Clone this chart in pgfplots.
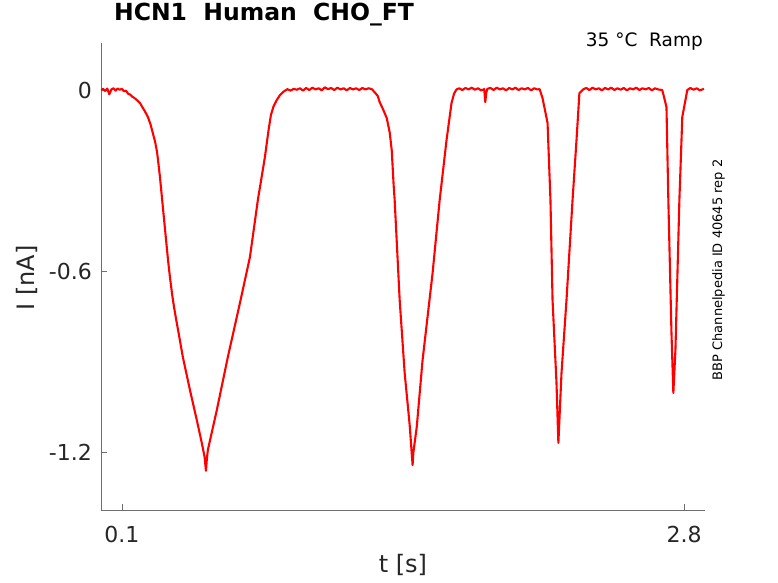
\documentclass[border=0pt]{standalone}
\usepackage{fontspec}
\setmainfont{DejaVu Sans}
\usepackage{pgfplots}
\usepackage{pgfplotstable}
\pgfplotsset{compat=1.18}
\definecolor{txt}{HTML}{262626}
\definecolor{axc}{HTML}{6E6E6E}

\pgfplotstableread{
t I
0.000 0.000
0.010 0.004
0.020 -0.003
0.030 0.005
0.040 -0.014
0.050 0.002
0.060 0.006
0.070 -0.002
0.080 0.005
0.090 0.001
0.100 0.004
0.110 -0.004
0.120 -0.002
0.130 -0.012
0.140 -0.015
0.150 -0.022
0.160 -0.026
0.170 -0.032
0.180 -0.038
0.187 -0.043
0.200 -0.058
0.212 -0.072
0.225 -0.089
0.237 -0.112
0.249 -0.143
0.260 -0.172
0.269 -0.205
0.276 -0.245
0.283 -0.288
0.297 -0.388
0.310 -0.480
0.322 -0.565
0.331 -0.620
0.342 -0.680
0.352 -0.725
0.362 -0.765
0.372 -0.803
0.393 -0.885
0.427 -0.994
0.460 -1.094
0.484 -1.170
0.497 -1.215
0.504 -1.262
0.508 -1.225
0.513 -1.193
0.556 -1.061
0.609 -0.885
0.667 -0.706
0.715 -0.554
0.753 -0.365
0.787 -0.222
0.805 -0.130
0.816 -0.082
0.828 -0.055
0.844 -0.033
0.860 -0.016
0.875 -0.006
0.895 0.003
0.910 -0.002
0.925 0.004
0.940 0.001
0.955 0.006
0.970 -0.002
0.985 0.007
1.000 0.000
1.015 0.008
1.030 0.002
1.045 0.006
1.060 -0.001
1.075 0.009
1.090 0.003
1.105 0.007
1.120 0.000
1.135 0.008
1.150 0.002
1.165 0.006
1.180 -0.001
1.195 0.007
1.210 0.002
1.225 0.006
1.240 0.000
1.255 0.007
1.270 0.002
1.285 0.006
1.300 0.003
1.315 -0.008
1.329 -0.020
1.338 -0.040
1.355 -0.065
1.372 -0.093
1.386 -0.140
1.396 -0.200
1.405 -0.315
1.410 -0.365
1.434 -0.696
1.458 -0.938
1.482 -1.110
1.496 -1.243
1.500 -1.200
1.516 -1.117
1.544 -0.895
1.592 -0.607
1.626 -0.365
1.659 -0.166
1.683 -0.043
1.695 -0.012
1.707 0.002
1.720 0.006
1.735 0.000
1.750 0.007
1.765 0.002
1.780 0.008
1.795 0.001
1.810 0.006
1.825 -0.001
1.840 0.003
1.845 -0.040
1.850 -0.008
1.855 0.004
1.870 0.007
1.885 0.000
1.900 0.008
1.915 0.002
1.930 0.006
1.945 -0.001
1.960 0.007
1.975 0.002
1.990 0.008
2.005 0.000
2.020 0.006
2.035 0.002
2.050 0.007
2.065 -0.001
2.080 0.006
2.095 0.002
2.106 0.003
2.120 -0.027
2.144 -0.109
2.158 -0.365
2.168 -0.696
2.187 -0.971
2.196 -1.170
2.211 -0.938
2.235 -0.696
2.264 -0.365
2.283 -0.166
2.297 -0.010
2.317 0.003
2.330 0.007
2.345 0.000
2.360 0.008
2.375 0.002
2.390 0.006
2.405 -0.001
2.420 0.007
2.435 0.002
2.450 0.008
2.465 0.000
2.480 0.006
2.495 0.001
2.510 0.007
2.525 -0.001
2.540 0.006
2.555 0.002
2.570 0.008
2.585 0.000
2.600 0.006
2.615 0.002
2.630 0.007
2.645 -0.001
2.660 0.006
2.675 0.002
2.695 0.000
2.715 -0.056
2.724 -0.365
2.739 -0.805
2.748 -1.004
2.758 -0.862
2.777 -0.365
2.791 -0.089
2.815 0.000
2.830 0.007
2.845 0.001
2.860 0.006
2.875 -0.001
2.895 0.004
}\trace

\begin{document}
\begin{tikzpicture}
\path[use as bounding box] (-101bp,-73bp) rectangle (677bp,510bp);
\begin{axis}[
  at={(0,0)}, anchor=south west,
  scale only axis, width=604bp, height=467bp,
  xmin=0, xmax=2.9, ymin=-1.392, ymax=0.156,
  axis x line=bottom, axis y line=left,
  axis line style={-, axc, line width=0.6bp},
  xtick={0.1,2.8}, xticklabels={0.1,2.8},
  ytick={-1.2,-0.6,0}, yticklabels={-1.2,-0.6,0},
  tick align=inside, major tick length=6bp,
  tick style={axc, line width=0.6bp},
  ticklabel style={font=\fontsize{22bp}{26bp}\selectfont, text=txt, inner sep=0pt},
  xticklabel style={anchor=base, yshift=-32bp},
  yticklabel style={anchor=east, xshift=-9bp},
  xlabel={t [s]}, ylabel={I [nA]},
  label style={font=\fontsize{24bp}{28bp}\selectfont, text=txt},
  xlabel style={at={(axis description cs:0.5,-0.1328)}, anchor=base},
  ylabel style={at={(axis description cs:-0.1093,0.4968)}, anchor=base, rotate=0},
  title={HCN1\ \ Human\ \ CHO\_FT},
  title style={at={(axis description cs:0.2699,1.0343)}, anchor=base,
    font=\bfseries\fontsize{23.5bp}{27bp}\selectfont, text=black},
]
\addplot[red, line width=2.1bp, line join=round] table[x=t, y=I] {\trace};
\end{axis}
\node[anchor=base east, inner sep=0pt, font=\fontsize{18.5bp}{22bp}\selectfont, text=black] at (602bp,463bp) {35 °C\ \ Ramp};
\node[rotate=90, anchor=base, font=\fontsize{13bp}{15bp}\selectfont, text=black] at (621bp,240bp) {BBP Channelpedia ID 40645 rep 2};
\end{tikzpicture}
\end{document}
